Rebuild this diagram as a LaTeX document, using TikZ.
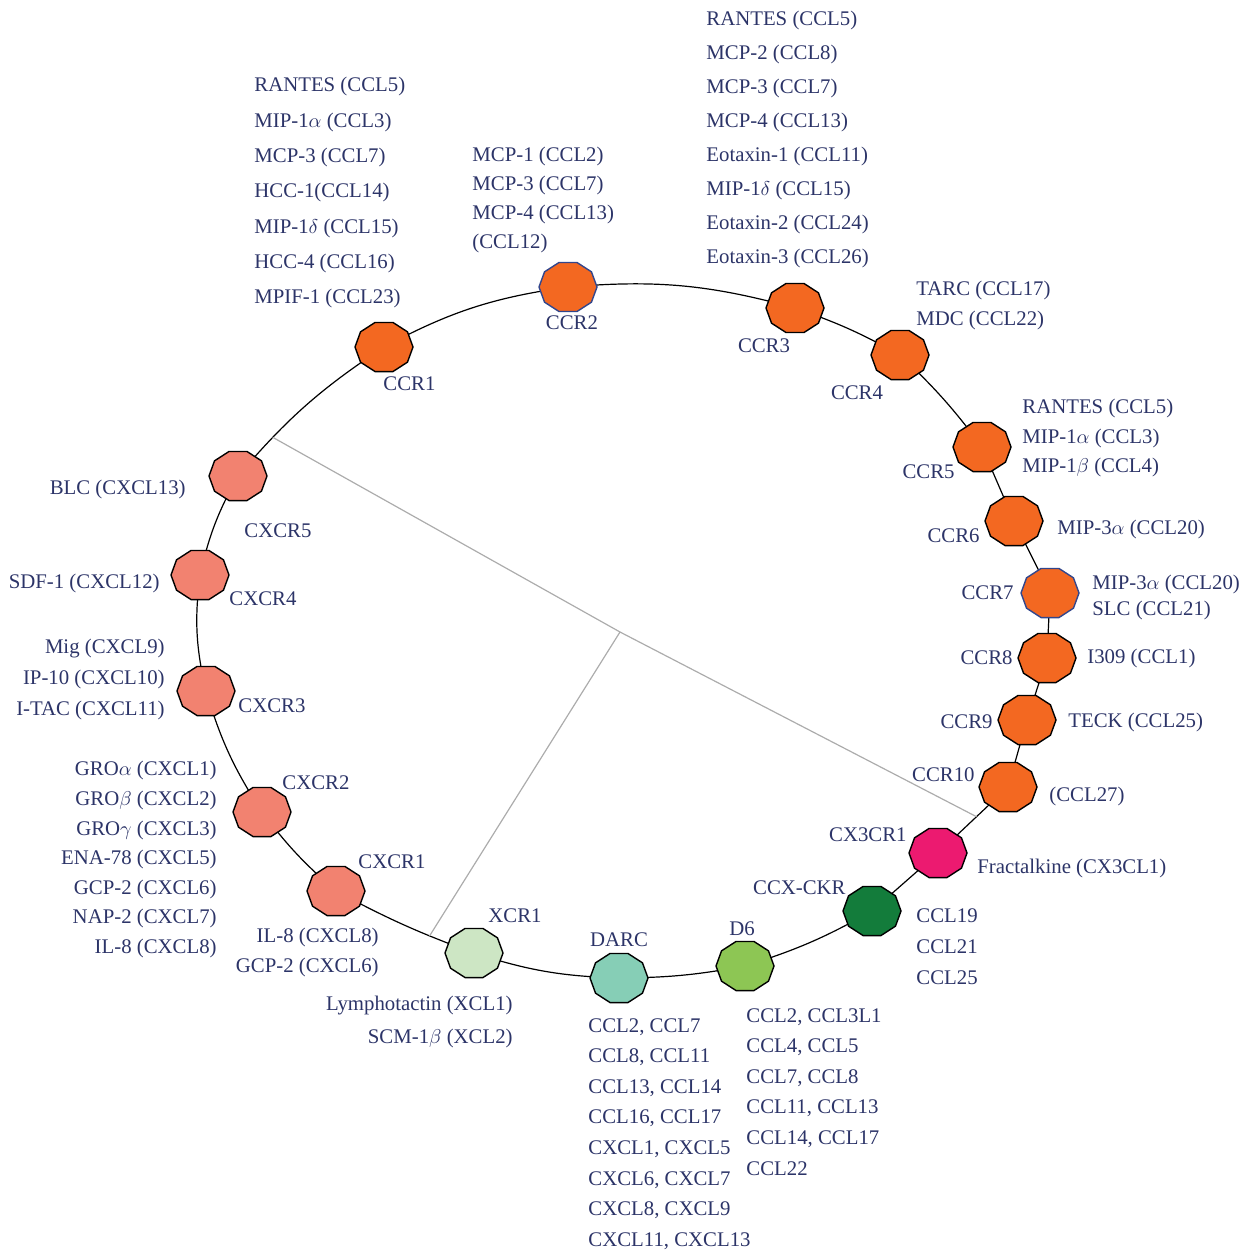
\documentclass[tikz,border=0pt]{standalone}
\usepackage{fontspec}
\setmainfont{Liberation Serif}
\usepackage{tikz}
\usetikzlibrary{shapes.geometric,backgrounds}
\definecolor{ink}{RGB}{44,52,104}
\definecolor{ccrorange}{RGB}{243,104,33}
\definecolor{cxcrpink}{RGB}{242,130,112}
\definecolor{fractpink}{RGB}{236,26,112}
\definecolor{ckrgreen}{RGB}{19,124,59}
\definecolor{dsixgreen}{RGB}{141,198,84}
\definecolor{darcteal}{RGB}{134,206,182}
\definecolor{xcrgreen}{RGB}{205,230,196}
\definecolor{edgeblue}{RGB}{50,70,140}

\begin{document}
\begin{tikzpicture}[x=0.5pt, y=-0.5pt,
    recep/.style={regular polygon, regular polygon sides=10, minimum size=29pt, inner sep=0pt, yscale=0.89, draw=black, line width=0.7pt},
    ccr/.style={recep, fill=ccrorange},
    cxcr/.style={recep, fill=cxcrpink},
    lbl/.style={text=ink, font=\fontsize{10.4}{12.5}\selectfont, inner sep=0pt},
    lig/.style={lbl, font=\fontsize{10.4}{#1}\selectfont},
    ring/.style={line width=0.6pt},
    spoke/.style={gray!65, line width=0.6pt}]
    \useasboundingbox (0,0) rectangle (1247,1252);

    % Receptors
    \node[ccr] (ccr1) at (384,347) {};
    \node[ccr, draw=edgeblue] (ccr2) at (568,287) {};
    \node[ccr] (ccr3) at (795,308) {};
    \node[ccr] (ccr4) at (900,355) {};
    \node[ccr] (ccr5) at (982,447) {};
    \node[ccr] (ccr6) at (1014,521) {};
    \node[ccr, draw=edgeblue] (ccr7) at (1050,593) {};
    \node[ccr] (ccr8) at (1047,658) {};
    \node[ccr] (ccr9) at (1027,720) {};
    \node[ccr] (ccr10) at (1008,787) {};
    \node[recep, fill=fractpink] (cx3cr1) at (938,853) {};
    \node[recep, fill=ckrgreen] (ccxckr) at (872,911) {};
    \node[recep, fill=dsixgreen] (d6) at (745,966) {};
    \node[recep, fill=darcteal] (darc) at (619,978) {};
    \node[recep, fill=xcrgreen] (xcr1) at (474,953) {};
    \node[cxcr] (cxcr1) at (336,891) {};
    \node[cxcr] (cxcr2) at (262,812) {};
    \node[cxcr] (cxcr3) at (206,691) {};
    \node[cxcr] (cxcr4) at (200,575) {};
    \node[cxcr] (cxcr5) at (238,476) {};

    \begin{scope}[on background layer]
    % Ring
    \draw[ring] (ccr1.center) to[bend left=10] (ccr2.center) to[bend left=10] (ccr3.center)
        to[bend left=5] (ccr4.center) to[bend left=5] (ccr5.center) -- (ccr6.center)
        -- (ccr7.center) -- (ccr8.center) -- (ccr9.center) -- (ccr10.center);
    \draw[ring] (ccr10.center) to coordinate[pos=0.45] (g3) (cx3cr1.center) -- (ccxckr.center)
        to[bend left=6] (d6.center) to[bend left=5] (darc.center) to[bend left=8] (xcr1.center);
    \draw[ring] (xcr1.center) to[bend left=4] coordinate[pos=0.3] (g2) (cxcr1.center)
        to[bend left=6] (cxcr2.center) to[bend left=8] (cxcr3.center) to[bend left=10] (cxcr4.center)
        to[bend left=8] (cxcr5.center) to[bend left=8] coordinate[pos=0.25] (g1) (ccr1.center);

    % Spokes
    \coordinate (hub) at (620,632);
    \draw[spoke] (hub) -- (g1);
    \draw[spoke] (hub) -- (g2);
    \draw[spoke] (hub) -- (g3);
    \end{scope}

    % Receptor names
    \node[lbl, anchor=west] (ccr1-n) at (383,384) {CCR1};
    \node[lbl] (ccr2-n) at (572,323) {CCR2};
    \node[lbl] (ccr3-n) at (764,346) {CCR3};
    \node[lbl] (ccr4-n) at (857,393) {CCR4};
    \node[lbl, anchor=east] (ccr5-n) at (955,472) {CCR5};
    \node[lbl, anchor=east] (ccr6-n) at (980,536) {CCR6};
    \node[lbl, anchor=east] (ccr7-n) at (1014,593) {CCR7};
    \node[lbl, anchor=east] (ccr8-n) at (1013,658) {CCR8};
    \node[lbl, anchor=east] (ccr9-n) at (993,722) {CCR9};
    \node[lbl, anchor=east] (ccr10-n) at (975,775) {CCR10};
    \node[lbl, anchor=east] (cx3cr1-n) at (907,835) {CX3CR1};
    \node[lbl, anchor=east] (ccxckr-n) at (846,888) {CCX-CKR};
    \node[lbl] (d6-n) at (742,929) {D6};
    \node[lbl] (darc-n) at (619,940) {DARC};
    \node[lbl, anchor=west] (xcr1-n) at (488,916) {XCR1};
    \node[lbl, anchor=west] (cxcr1-n) at (358,862) {CXCR1};
    \node[lbl, anchor=west] (cxcr2-n) at (282,783) {CXCR2};
    \node[lbl, anchor=west] (cxcr3-n) at (238,706) {CXCR3};
    \node[lbl, anchor=west] (cxcr4-n) at (229,599) {CXCR4};
    \node[lbl, anchor=west] (cxcr5-n) at (244,531) {CXCR5};

    % Ligands
    \node[lig=17.65pt, align=left, anchor=north west] (ccr1-l) at (254,77) {RANTES (CCL5)\\MIP-1$\alpha$ (CCL3)\\MCP-3 (CCL7)\\HCC-1(CCL14)\\MIP-1$\delta$ (CCL15)\\HCC-4 (CCL16)\\MPIF-1 (CCL23)};
    \node[lig=14.5pt, align=left, anchor=north west] (ccr2-l) at (472,147) {MCP-1 (CCL2)\\MCP-3 (CCL7)\\MCP-4 (CCL13)\\(CCL12)};
    \node[lig=17pt, align=left, anchor=north west] (ccr3-l) at (706,11) {RANTES (CCL5)\\MCP-2 (CCL8)\\MCP-3 (CCL7)\\MCP-4 (CCL13)\\Eotaxin-1 (CCL11)\\MIP-1$\delta$ (CCL15)\\Eotaxin-2 (CCL24)\\Eotaxin-3 (CCL26)};
    \node[lig=15pt, align=left, anchor=north west] (ccr4-l) at (916,281) {TARC (CCL17)\\MDC (CCL22)};
    \node[lig=14.75pt, align=left, anchor=north west] (ccr5-l) at (1022,399) {RANTES (CCL5)\\MIP-1$\alpha$ (CCL3)\\MIP-1$\beta$ (CCL4)};
    \node[lbl, anchor=west] (ccr6-l) at (1057,529) {MIP-3$\alpha$ (CCL20)};
    \node[lig=13pt, align=left, anchor=north west] (ccr7-l) at (1092,575) {MIP-3$\alpha$ (CCL20)\\SLC (CCL21)};
    \node[lbl, anchor=west] (ccr8-l) at (1087,658) {I309 (CCL1)};
    \node[lbl, anchor=west] (ccr9-l) at (1068,722) {TECK (CCL25)};
    \node[lbl, anchor=west] (ccr10-l) at (1049,796) {(CCL27)};
    \node[lbl, anchor=west] (cx3cr1-l) at (977,868) {Fractalkine (CX3CL1)};
    \node[lig=15.5pt, align=left, anchor=north west] (ccxckr-l) at (916,908) {CCL19\\CCL21\\CCL25};
    \node[lig=15.3pt, align=left, anchor=north west] (d6-l) at (746,1008) {CCL2, CCL3L1\\CCL4, CCL5\\CCL7, CCL8\\CCL11, CCL13\\CCL14, CCL17\\CCL22};
    \node[lig=15.3pt, align=left, anchor=north west] (darc-l) at (588,1018) {CCL2, CCL7\\CCL8, CCL11\\CCL13, CCL14\\CCL16, CCL17\\CXCL1, CXCL5\\CXCL6, CXCL7\\CXCL8, CXCL9\\CXCL11, CXCL13};
    \node[lig=16.5pt, align=right, anchor=north east] (xcr1-l) at (513,996) {Lymphotactin (XCL1)\\SCM-1$\beta$ (XCL2)};
    \node[lig=15pt, align=right, anchor=north east] (cxcr1-l) at (379,928) {IL-8 (CXCL8)\\GCP-2 (CXCL6)};
    \node[lig=14.8pt, align=right, anchor=north east] (cxcr2-l) at (217,761) {GRO$\alpha$ (CXCL1)\\GRO$\beta$ (CXCL2)\\GRO$\gamma$ (CXCL3)\\ENA-78 (CXCL5)\\GCP-2 (CXCL6)\\NAP-2 (CXCL7)\\IL-8 (CXCL8)};
    \node[lig=15.5pt, align=right, anchor=north east] (cxcr3-l) at (165,639) {Mig (CXCL9)\\IP-10 (CXCL10)\\I-TAC (CXCL11)};
    \node[lbl, anchor=east] (cxcr4-l) at (160,583) {SDF-1 (CXCL12)};
    \node[lbl, anchor=east] (cxcr5-l) at (186,489) {BLC (CXCL13)};
\end{tikzpicture}
\end{document}
